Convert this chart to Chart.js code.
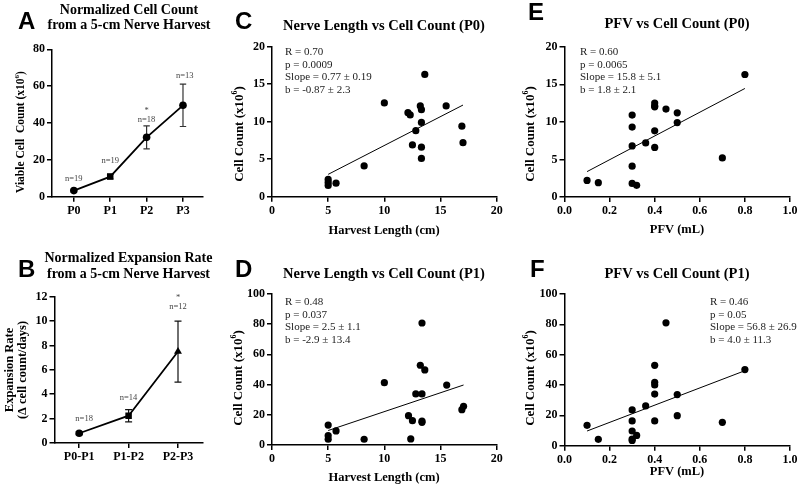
<!DOCTYPE html>
<html><head><meta charset="utf-8">
<script src="https://cdn.jsdelivr.net/npm/chart.js@4.4.1/dist/chart.umd.min.js"></script>
<style>
html,body{margin:0;padding:0;background:#fff;}
#wrap{position:relative;width:800px;height:487px;overflow:hidden;background:#fff;}
#wrap canvas{position:absolute;left:0;top:0;}
</style></head><body><div id="wrap">
<canvas id="cA" width="800" height="487"></canvas>
<canvas id="cB" width="800" height="487"></canvas>
<canvas id="cC" width="800" height="487"></canvas>
<canvas id="cD" width="800" height="487"></canvas>
<canvas id="cE" width="800" height="487"></canvas>
<canvas id="cF" width="800" height="487"></canvas>
</div>
<script>
// ---------- DATA ----------
// Panel A: normalized viable cell count (x10^6) per passage
const passageLabels = ['P0', 'P1', 'P2', 'P3'];
const cellCountMean = [3.3, 10.9, 32.2, 49.6];
const cellCountErr  = [0.6, 1.2, 6.2, 11.5];
const cellCountN    = ['n=19', 'n=19', 'n=18', 'n=13'];
const cellCountSig  = ['', '', '*', ''];

// Panel B: normalized expansion rate
const intervalLabels = ['P0-P1', 'P1-P2', 'P2-P3'];
const expansionMean  = [0.8, 2.24, 7.5];
const expansionErr   = [0.12, 0.5, 2.5];
const expansionN     = ['n=18', 'n=14', 'n=12'];
const expansionSig   = ['', '', '*'];

// Panel C: harvest length (cm) vs P0 cell count (x10^6)
const harvestLengthC = [5, 5, 5, 5.7, 8.2, 10, 12.1, 12.3, 13.2, 13.3, 13.6, 13.3, 12.8, 12.5, 13.3, 13.3, 15.5, 16.9, 17.0];
const cellCountP0C   = [2.3, 1.9, 1.5, 1.8, 4.1, 12.5, 11.2, 10.9, 12.1, 11.6, 16.3, 9.9, 8.8, 6.9, 6.6, 5.1, 12.1, 9.4, 7.2];
const fitC = { slope: 0.77, b: -0.87 };
const statsC = ['R = 0.70', 'p = 0.0009', 'Slope = 0.77 \u00b1 0.19', 'b = -0.87 \u00b1 2.3'];

// Panel D: harvest length (cm) vs P1 cell count (x10^6)
const harvestLengthD = [5, 5, 5, 5.7, 8.2, 10, 12.15, 12.35, 12.5, 12.8, 13.2, 13.35, 13.35, 13.35, 13.35, 13.6, 15.55, 16.9, 17.05];
const cellCountP1D   = [13.2, 6.2, 3.8, 9.3, 3.8, 41.3, 19.4, 4.0, 16.1, 33.8, 52.8, 80.8, 33.8, 15.9, 15.0, 49.7, 39.7, 23.4, 25.6];
const fitD = { slope: 2.5, b: -2.9 };
const statsD = ['R = 0.48', 'p = 0.037', 'Slope = 2.5 \u00b1 1.1', 'b = -2.9 \u00b1 13.4'];

// Panel E: PFV (mL) vs P0 cell count (x10^6)
const pfvE         = [0.1, 0.15, 0.3, 0.3, 0.3, 0.3, 0.3, 0.32, 0.36, 0.4, 0.4, 0.4, 0.4, 0.4, 0.45, 0.5, 0.5, 0.7, 0.8];
const cellCountP0E = [2.2, 1.9, 10.9, 9.3, 6.8, 4.1, 1.8, 1.55, 7.2, 12.5, 12.1, 12.0, 8.8, 6.6, 11.7, 11.2, 9.9, 5.2, 16.3];
const fitE = { slope: 15.8, b: 1.8 };
const statsE = ['R = 0.60', 'p = 0.0065', 'Slope = 15.8 \u00b1 5.1', 'b = 1.8 \u00b1 2.1'];

// Panel F: PFV (mL) vs P1 cell count (x10^6)
const pfvF         = [0.1, 0.15, 0.3, 0.3, 0.3, 0.3, 0.3, 0.32, 0.36, 0.4, 0.4, 0.4, 0.4, 0.4, 0.45, 0.5, 0.5, 0.7, 0.8];
const cellCountP1F = [13.4, 4.2, 23.6, 16.3, 9.7, 4.4, 3.5, 6.8, 26.2, 53, 41.8, 40, 34, 16.3, 81, 33.7, 19.8, 15.4, 50.2];
const fitF = { slope: 56.8, b: 4.0 };
const statsF = ['R = 0.46', 'p = 0.05', 'Slope = 56.8 \u00b1 26.9', 'b = 4.0 \u00b1 11.3'];

// ---------- STYLE / HELPERS ----------
const SERIF = '"Liberation Serif", "Times New Roman", serif';
const SANS = '"Liberation Sans", Arial, sans-serif';
Chart.defaults.font.family = SERIF;
Chart.defaults.color = '#000';

function drawRich(ctx, it) {
  const size = it.size || 13;
  const base = `bold ${size}px ${SERIF}`;
  const sup = `bold ${Math.round(size * 0.65)}px ${SERIF}`;
  ctx.save();
  ctx.translate(it.x, it.y);
  if (it.rotate) ctx.rotate(-Math.PI / 2);
  ctx.fillStyle = it.color || '#000';
  ctx.textBaseline = 'middle';
  ctx.textAlign = 'left';
  let w = 0;
  it.parts.forEach(p => { ctx.font = p[1] ? sup : base; w += ctx.measureText(p[0]).width; });
  let cx = -w / 2;
  it.parts.forEach(p => {
    ctx.font = p[1] ? sup : base;
    ctx.fillText(p[0], cx, p[1] ? -size * 0.38 : 0);
    cx += ctx.measureText(p[0]).width;
  });
  ctx.restore();
}

// plugins are built with closures so item lists bypass Chart.js option resolution
function textPlugin(items) {
  return {
    id: 'texts',
    afterDraw(chart) {
      const ctx = chart.ctx;
      items.forEach(it => {
        if (it.parts) { drawRich(ctx, it); return; }
        ctx.save();
        let x = it.x, y = it.y;
        if (it.at) {
          x = chart.scales.x.getPixelForValue(it.at[0]);
          y = chart.scales.y.getPixelForValue(it.at[1]);
        }
        ctx.translate(x, y);
        if (it.rotate) ctx.rotate(-Math.PI / 2);
        ctx.font = it.font;
        ctx.fillStyle = it.color || '#000';
        ctx.textAlign = it.align || 'center';
        ctx.textBaseline = it.baseline || 'middle';
        ctx.fillText(it.text, 0, 0);
        ctx.restore();
      });
    }
  };
}

function errorBarPlugin(errors, color, width, cap) {
  return {
    id: 'errorBars',
    beforeDatasetsDraw(chart) {
      const ds = chart.data.datasets[0];
      const xs = chart.scales.x, ys = chart.scales.y, ctx = chart.ctx;
      ctx.save();
      ctx.strokeStyle = color;
      ctx.lineWidth = width;
      ds.data.forEach((p, i) => {
        const e = errors[i];
        const x = xs.getPixelForValue(p.x);
        const yt = ys.getPixelForValue(p.y + e), yb = ys.getPixelForValue(p.y - e);
        ctx.beginPath();
        ctx.moveTo(x, yt); ctx.lineTo(x, yb);
        ctx.moveTo(x - cap, yt); ctx.lineTo(x + cap, yt);
        ctx.moveTo(x - cap, yb); ctx.lineTo(x + cap, yb);
        ctx.stroke();
      });
      ctx.restore();
    }
  };
}

function axis(o) {
  const tickFont = { family: SERIF, size: 12, weight: 'bold' };
  const s = {
    type: 'linear',
    min: o.min, max: o.max,
    border: { display: true, color: '#000', width: 1.5 },
    grid: { display: true, drawOnChartArea: false, drawTicks: true, tickLength: 5, color: '#000', lineWidth: 1.5 },
    ticks: { color: '#000', font: tickFont, padding: 2, autoSkip: false, maxRotation: 0 }
  };
  if (o.step) s.ticks.stepSize = o.step;
  if (o.labels) {
    s.afterBuildTicks = sc => { sc.ticks = o.labels.map((_, i) => ({ value: i })); };
    s.ticks.callback = v => o.labels[v];
  }
  if (o.fmt) s.ticks.callback = o.fmt;
  s.afterFit = o.horizontal ? (sc => { sc.height = 30; }) : (sc => { sc.width = 40; });
  return s;
}

function layoutFor(L, R, T, B) {
  return { padding: { left: L - 40, right: 800 - R, top: T, bottom: 487 - B - 30 } };
}

const letterFont = `bold 24px ${SANS}`;
const titleFont = `bold 14px ${SERIF}`;
const titleFont2 = `bold 14.5px ${SERIF}`;
const axisTitleFont = `bold 12.5px ${SERIF}`;
const statFont = `11px ${SERIF}`;
const nFont = `8.5px ${SERIF}`;
const nColor = '#444';

function statItems(lines, x, y0) {
  return lines.map((t, i) => ({ text: t, x: x, y: y0 + i * 12.8, font: statFont, align: 'left', color: '#222' }));
}
function yTitle(x, y) {
  return { parts: [['Cell Count (x10', false], ['6', true], [')', false]], x: x, y: y, size: 13, rotate: true };
}
function toXY(xs, ys) { return xs.map((x, i) => ({ x: x, y: ys[i] })); }
function fitLine(xs, fit) {
  const lo = Math.min(...xs), hi = Math.max(...xs);
  return [{ x: lo, y: fit.slope * lo + fit.b }, { x: hi, y: fit.slope * hi + fit.b }];
}

const common = { responsive: false, animation: false, devicePixelRatio: 1, events: [] };
const noLegend = { legend: { display: false }, tooltip: { enabled: false } };

function scatterChart(id, xs, ys, fit, xAx, yAx, box, items) {
  return new Chart(document.getElementById(id), {
    type: 'scatter',
    data: { datasets: [
      { data: toXY(xs, ys), backgroundColor: '#000', borderColor: '#000', pointRadius: 3.6, pointBorderWidth: 0 },
      { data: fitLine(xs, fit), showLine: true, borderColor: '#000', borderWidth: 1, pointRadius: 0 }
    ] },
    options: Object.assign({}, common, {
      layout: layoutFor(box[0], box[1], box[2], box[3]),
      scales: { x: axis(Object.assign({ horizontal: true }, xAx)), y: axis(yAx) },
      plugins: noLegend
    }),
    plugins: [textPlugin(items)]
  });
}

// ---------- PANEL A ----------
new Chart(document.getElementById('cA'), {
  type: 'scatter',
  data: { datasets: [{
    data: cellCountMean.map((y, i) => ({ x: i, y: y })),
    showLine: true, borderColor: '#000', borderWidth: 1.8, backgroundColor: '#000',
    pointStyle: ['circle', 'rect', 'circle', 'circle'], pointRadius: [3.8, 4.6, 3.8, 3.8], pointBorderWidth: 0
  }] },
  options: Object.assign({}, common, {
    layout: layoutFor(52, 203, 49.3, 196.7),
    scales: {
      x: axis({ horizontal: true, min: -0.6, max: 3.55, labels: passageLabels }),
      y: axis({ min: 0, max: 80, step: 20 })
    },
    plugins: noLegend
  }),
  plugins: [
    errorBarPlugin(cellCountErr, '#333', 1.2, 3.2),
    textPlugin([
      { text: 'A', x: 18, y: 29, font: letterFont, align: 'left', baseline: 'alphabetic' },
      { text: 'Normalized Cell Count', x: 129, y: 14.3, font: titleFont, baseline: 'alphabetic' },
      { text: 'from a 5-cm Nerve Harvest', x: 129, y: 29.3, font: titleFont, baseline: 'alphabetic' },
      { parts: [['Viable Cell  Count (x10', false], ['6', true], [')', false]], x: 21.5, y: 132, size: 11.5, rotate: true },
      { text: cellCountN[0], at: [0, 10], font: nFont, color: nColor },
      { text: cellCountN[1], at: [1, 19.5], font: nFont, color: nColor },
      { text: cellCountN[2], at: [2, 42], font: nFont, color: nColor },
      { text: cellCountSig[2], at: [2, 46.8], font: nFont, color: nColor },
      { text: cellCountN[3], at: [3.05, 65.8], font: nFont, color: nColor }
    ])
  ]
});

// ---------- PANEL B ----------
new Chart(document.getElementById('cB'), {
  type: 'scatter',
  data: { datasets: [{
    data: expansionMean.map((y, i) => ({ x: i, y: y })),
    showLine: true, borderColor: '#000', borderWidth: 1.8, backgroundColor: '#000',
    pointStyle: ['circle', 'rect', 'triangle'], pointRadius: [3.8, 4.6, 4.6], pointBorderWidth: 0
  }] },
  options: Object.assign({}, common, {
    layout: layoutFor(54.5, 202.7, 296.7, 443),
    scales: {
      x: axis({ horizontal: true, min: -0.5, max: 2.5, labels: intervalLabels }),
      y: axis({ min: 0, max: 12, step: 2 })
    },
    plugins: noLegend
  }),
  plugins: [
    errorBarPlugin(expansionErr, '#111', 1.2, 3.5),
    textPlugin([
      { text: 'B', x: 18, y: 277, font: letterFont, align: 'left', baseline: 'alphabetic' },
      { text: 'Normalized Expansion Rate', x: 128.5, y: 262, font: titleFont, baseline: 'alphabetic' },
      { text: 'from a 5-cm Nerve Harvest', x: 128.5, y: 277.5, font: titleFont, baseline: 'alphabetic' },
      { text: 'Expansion Rate', x: 10, y: 370, font: `bold 12.5px ${SERIF}`, rotate: true },
      { text: '(\u0394 cell count/days)', x: 22.5, y: 370, font: `bold 12.5px ${SERIF}`, rotate: true },
      { text: expansionN[0], at: [0.1, 2.0], font: nFont, color: nColor },
      { text: expansionN[1], at: [1, 3.7], font: nFont, color: nColor },
      { text: expansionN[2], at: [2, 11.2], font: nFont, color: nColor },
      { text: expansionSig[2], at: [2, 11.95], font: nFont, color: nColor }
    ])
  ]
});

// ---------- PANEL C ----------
scatterChart('cC', harvestLengthC, cellCountP0C, fitC,
  { min: 0, max: 20, step: 5 }, { min: 0, max: 20, step: 5 },
  [272, 496.7, 46.7, 196.7],
  [
    { text: 'C', x: 235, y: 29, font: letterFont, align: 'left', baseline: 'alphabetic' },
    { text: 'Nerve Length vs Cell Count (P0)', x: 384, y: 29.5, font: titleFont2, baseline: 'alphabetic' },
    { text: 'Harvest Length (cm)', x: 384, y: 231, font: axisTitleFont },
    yTitle(240, 134)
  ].concat(statItems(statsC, 285, 52)));

// ---------- PANEL D ----------
scatterChart('cD', harvestLengthD, cellCountP1D, fitD,
  { min: 0, max: 20, step: 5 }, { min: 0, max: 100, step: 20 },
  [272, 496.7, 294, 445],
  [
    { text: 'D', x: 235, y: 277, font: letterFont, align: 'left', baseline: 'alphabetic' },
    { text: 'Nerve Length vs Cell Count (P1)', x: 384, y: 278, font: titleFont2, baseline: 'alphabetic' },
    { text: 'Harvest Length (cm)', x: 384, y: 478, font: axisTitleFont },
    yTitle(239, 378)
  ].concat(statItems(statsD, 285, 302)));

// ---------- PANEL E ----------
scatterChart('cE', pfvE, cellCountP0E, fitE,
  { min: 0, max: 1, step: 0.2, fmt: v => v.toFixed(1) }, { min: 0, max: 20, step: 5 },
  [564.5, 790, 46.7, 197],
  [
    { text: 'E', x: 528, y: 20, font: letterFont, align: 'left', baseline: 'alphabetic' },
    { text: 'PFV vs Cell Count (P0)', x: 677, y: 28.3, font: titleFont2, baseline: 'alphabetic' },
    { text: 'PFV (mL)', x: 677, y: 230, font: axisTitleFont },
    yTitle(531, 134)
  ].concat(statItems(statsE, 580, 52)));

// ---------- PANEL F ----------
scatterChart('cF', pfvF, cellCountP1F, fitF,
  { min: 0, max: 1, step: 0.2, fmt: v => v.toFixed(1) }, { min: 0, max: 100, step: 20 },
  [564.5, 790, 294, 445.7],
  [
    { text: 'F', x: 530, y: 277, font: letterFont, align: 'left', baseline: 'alphabetic' },
    { text: 'PFV vs Cell Count (P1)', x: 677, y: 278, font: titleFont2, baseline: 'alphabetic' },
    { text: 'PFV (mL)', x: 677, y: 472, font: axisTitleFont },
    yTitle(531, 378)
  ].concat(statItems(statsF, 710, 302)));
</script>
</body></html>
